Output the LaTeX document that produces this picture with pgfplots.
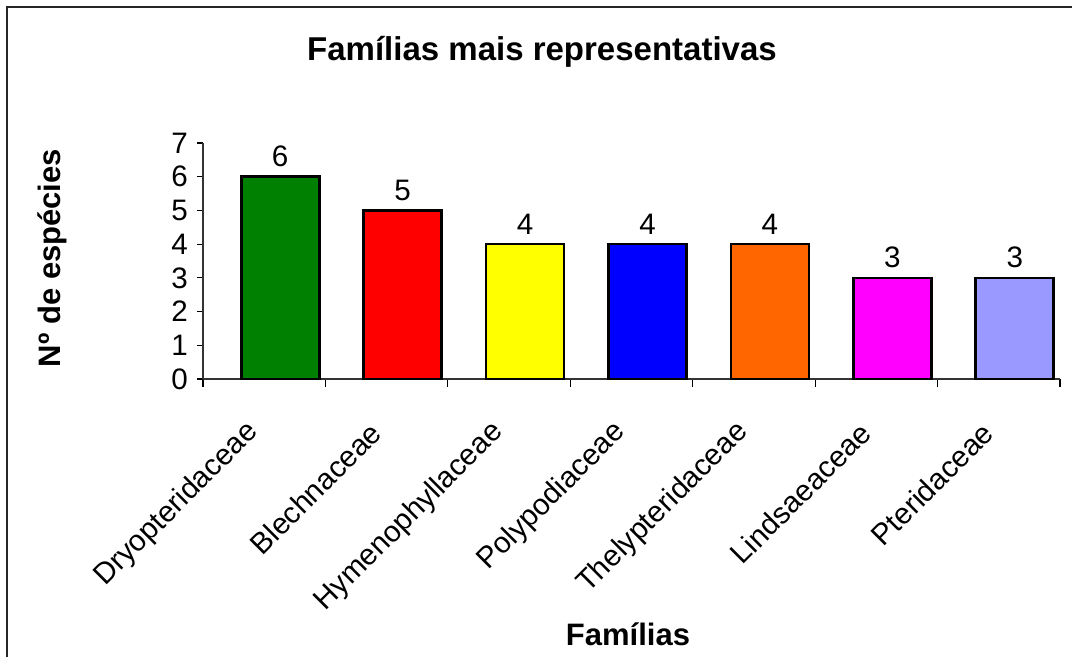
\documentclass[border=0pt]{standalone}
\usepackage{pgfplots}
\pgfplotsset{compat=1.18}
\usepackage{fontspec}
\setmainfont{Liberation Sans}
\definecolor{cgreen}{RGB}{0,128,0}
\definecolor{cred}{RGB}{255,0,0}
\definecolor{cyellow}{RGB}{255,255,0}
\definecolor{cblue}{RGB}{0,0,255}
\definecolor{corange}{RGB}{255,102,0}
\definecolor{cmagenta}{RGB}{255,0,255}
\definecolor{clav}{RGB}{153,153,255}
\newcommand{\regfont}{\fontsize{14.8}{17}\selectfont}
\begin{document}
\begin{tikzpicture}
\useasboundingbox (0,0) rectangle (536pt,-328.5pt);
\draw[line width=1pt, black!85] (3.5pt,-340pt) -- (3.5pt,-3.5pt) -- (545pt,-3.5pt);
\node[font=\fontsize{16.5}{19}\selectfont\bfseries] at (271pt,-26pt) {Famílias mais representativas};
\node[font=\fontsize{15.5}{18}\selectfont\bfseries] at (314pt,-317pt) {Famílias};
\node[font=\fontsize{15.5}{18}\selectfont\bfseries, rotate=90] at (26pt,-129pt) {Nº de espécies};
\begin{axis}[
  at={(101.5pt,-189.5pt)}, anchor=south west,
  scale only axis, width=428.5pt, height=118pt,
  xmin=-0.5, xmax=6.5, ymin=0, ymax=7,
  axis x line*=bottom, axis y line*=left,
  axis line style={black!80, line width=0.6pt},
  ytick={0,1,...,7},
  xtick={0,1,...,6},
  xticklabels={Dryopteridaceae,Blechnaceae,Hymenophyllaceae,Polypodiaceae,Thelypteridaceae,Lindsaeaceae,Pteridaceae},
  minor xtick={-0.5,0.5,...,6.5},
  tick align=outside,
  major tick length=3pt, minor tick length=4pt,
  x tick style={draw=none},
  minor x tick style={draw=black, line width=0.6pt},
  y tick style={black, line width=0.6pt},
  tick label style={font=\regfont},
  /pgf/number format/assume math mode=true,
  xticklabel style={anchor=east, rotate=45, xshift=-15.4pt, yshift=-11.4pt},
  yticklabel style={xshift=-1pt},
  ybar, bar width=39pt,
  every axis plot/.append style={bar shift=8pt, draw=black, line width=1.3pt},
  nodes near coords, nodes near coords style={font=\regfont, yshift=1pt},
  clip=false,
]
\addplot[fill=cgreen] coordinates {(0,6)};
\addplot[fill=cred] coordinates {(1,5)};
\addplot[fill=cyellow] coordinates {(2,4)};
\addplot[fill=cblue] coordinates {(3,4)};
\addplot[fill=corange] coordinates {(4,4)};
\addplot[fill=cmagenta] coordinates {(5,3)};
\addplot[fill=clav] coordinates {(6,3)};
\end{axis}
\end{tikzpicture}
\end{document}
